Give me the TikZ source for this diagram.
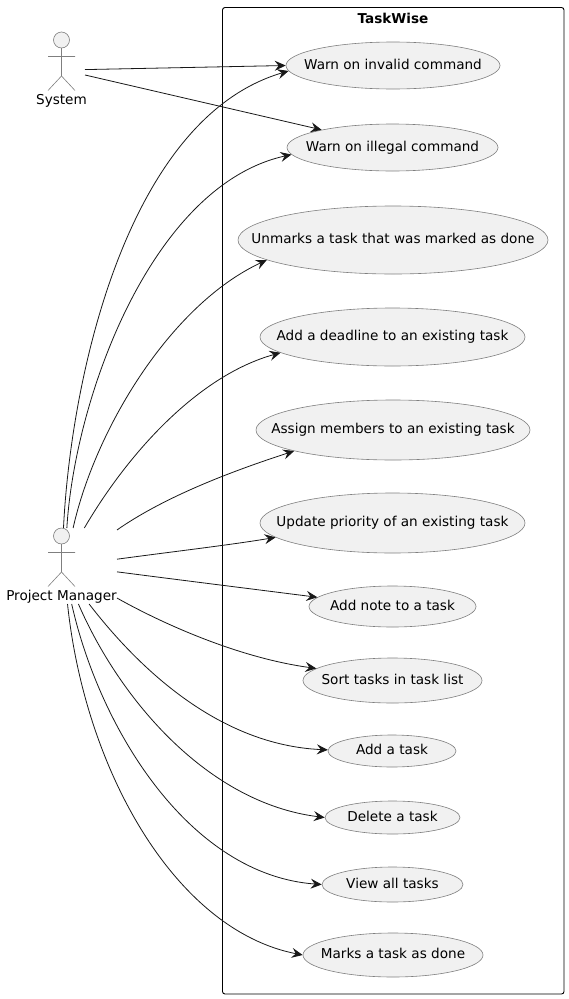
\documentclass[tikz,border=0pt]{standalone}
\usepackage{fontspec}
\setmainfont{DejaVu Sans}
\usetikzlibrary{arrows.meta,shapes.geometric}
\definecolor{ucfill}{HTML}{F1F1F1}
\definecolor{ucline}{HTML}{7F7F7F}
\definecolor{linkline}{HTML}{181818}
\tikzset{
  usecase/.style={ellipse,draw=ucline,fill=ucfill,line width=0.6pt,inner ysep=0pt,inner xsep=-60pt,text=black,font=\fontsize{13.6}{15}\selectfont,text height=10pt,text depth=3pt},
  actorbox/.style={rectangle,inner sep=0pt,outer sep=0pt},
  actorname/.style={inner sep=0pt,font=\fontsize{13.6}{15}\selectfont},
  link/.style={draw=linkline,line width=0.8pt,-{Stealth[length=11pt,width=10pt,inset=4pt]}},
  stickman/.pic={
    \draw[ucline,line width=0.6pt,fill=ucfill] (0,0) circle[radius=8];
    \draw[ucline,line width=0.6pt] (0,8) -- (0,36) (-13.5,16.5) -- (13.5,16.5)
      (-13.5,50.5) -- (0,36) -- (13.5,50.5);
  }
}
\begin{document}
\begin{tikzpicture}[x=1pt,y=-1pt]
\useasboundingbox (0,0) rectangle (568,999);
	% system boundary
	\node[draw=black,line width=0.9pt,rounded corners=2.5pt,minimum width=341.5pt,minimum height=986.5pt,inner sep=0pt] (taskwise) at (393.25,500.75) {};
	\node[inner sep=0pt,font=\fontsize{13.6}{15}\selectfont\bfseries] (title) at (393,18) {TaskWise};

	% actors
	\pic at (61.5,40) {stickman};
	\node[actorname] (systemname) at (61.5,101) {System};
	\node[actorbox,minimum width=47pt,minimum height=76pt] (system) at (61.5,70) {};
	\pic at (61.5,536) {stickman};
	\node[actorname] (pmname) at (61.5,597) {Project Manager};
	\node[actorbox,minimum width=111pt,minimum height=76pt] (pm) at (61.5,566) {};

	% use cases
	\node[usecase,minimum width=214pt,minimum height=47pt] (invalid) at (393,65.5) {Warn on invalid command};
	\node[usecase,minimum width=211pt,minimum height=47pt] (illegal) at (392.5,147.5) {Warn on illegal command};
	\node[usecase,minimum width=310pt,minimum height=68pt] (unmark) at (393,240) {Unmarks a task that was marked as done};
	\node[usecase,minimum width=265pt,minimum height=58pt] (deadline) at (392.5,337) {Add a deadline to an existing task};
	\node[usecase,minimum width=274pt,minimum height=60pt] (assign) at (393,430) {Assign members to an existing task};
	\node[usecase,minimum width=265pt,minimum height=60pt] (priority) at (392.5,523) {Update priority of an existing task};
	\node[usecase,minimum width=167pt,minimum height=41pt] (note) at (392.5,606.5) {Add note to a task};
	\node[usecase,minimum width=179pt,minimum height=45pt] (sort) at (392.5,680.5) {Sort tasks in task list};
	\node[usecase,minimum width=128pt,minimum height=32pt] (addtask) at (392,751) {Add a task};
	\node[usecase,minimum width=135pt,minimum height=33pt] (delete) at (392.5,817.5) {Delete a task};
	\node[usecase,minimum width=141pt,minimum height=35pt] (view) at (392.5,884.5) {View all tasks};
	\node[usecase,minimum width=180pt,minimum height=44pt] (mark) at (393,955) {Marks a task as done};

	% links
	\draw[link] (system.1) -- (invalid.180);
	\draw[link] (system.-12) -- (illegal.166.8);
	\draw[link] (pm.87.7) .. controls (71,375) and (128,118) .. (invalid.183.6);
	\draw[link] (pm.82.5) .. controls (75,395) and (153,185) .. (illegal.184);
	\draw[link] (pm.73.2) .. controls (95,430) and (170,305) .. (unmark.189.2);
	\draw[link] (pm.59.4) .. controls (130,450) and (200,375) .. (deadline.188.5);
	\draw[link] (pm.33) .. controls (160,500) and (220,475) .. (assign.192.6);
	\draw[link] (pm.7.2) .. controls (170,552) and (230,545) .. (priority.187.9);
	\draw[link] (pm.-6.2) .. controls (180,580) and (260,590) .. (note.173.5);
	\draw[link] (pm.-30) .. controls (165,625) and (240,658) .. (sort.171);
	\draw[link] (pm.-54.1) .. controls (140,670) and (220,745) .. (addtask.179);
	\draw[link] (pm.-66.5) .. controls (120,700) and (208,803) .. (delete.180);
	\draw[link] (pm.-75.3) .. controls (100,730) and (190,875) .. (view.180);
	\draw[link] (pm.-81) .. controls (85,770) and (175,930) .. (mark.180);
\end{tikzpicture}
\end{document}
